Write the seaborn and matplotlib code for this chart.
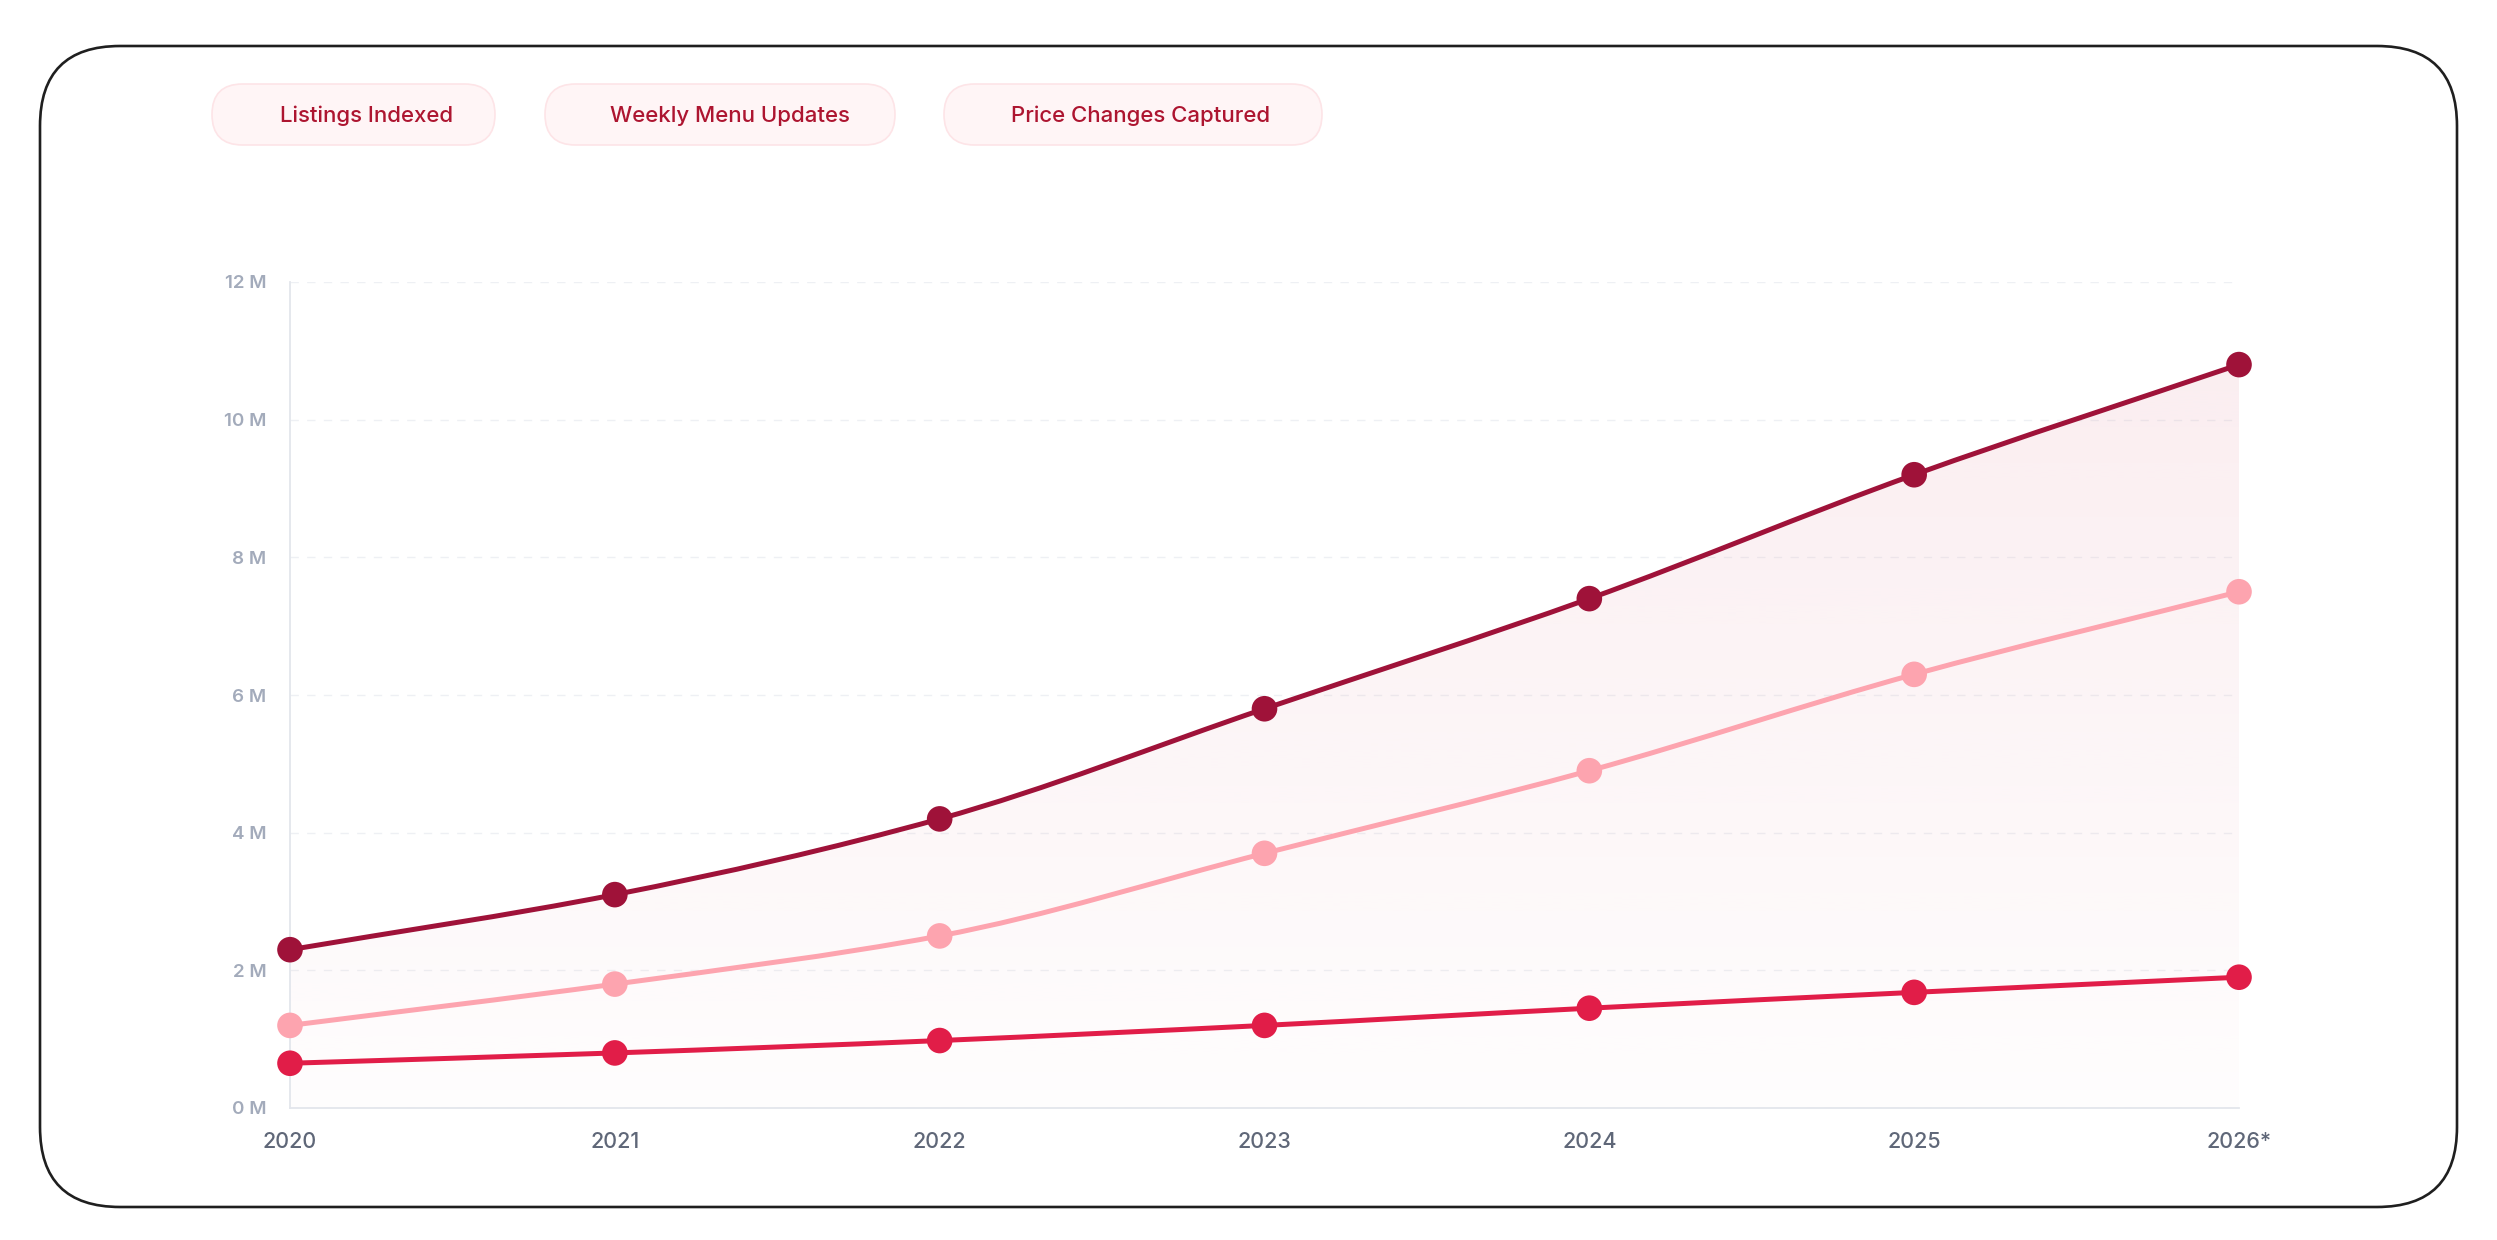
import numpy as np
import matplotlib
matplotlib.use("Agg")
import matplotlib.pyplot as plt
import seaborn as sns
import pandas as pd
from matplotlib.path import Path
from matplotlib.patches import PathPatch, FancyBboxPatch
from matplotlib.transforms import IdentityTransform

# ---------------- data ----------------
years = ["2020", "2021", "2022", "2023", "2024", "2025", "2026*"]
series_names = ["Listings Indexed", "Weekly Menu Updates", "Price Changes Captured"]
listings_indexed = [2.3, 3.1, 4.2, 5.8, 7.4, 9.2, 10.8]
weekly_menu_updates = [1.2, 1.8, 2.5, 3.7, 4.9, 6.3, 7.5]
price_changes_captured = [0.65, 0.8, 0.98, 1.2, 1.45, 1.68, 1.9]
y_ticks = [0, 2, 4, 6, 8, 10, 12]
y_tick_labels = ["0 M", "2 M", "4 M", "6 M", "8 M", "10 M", "12 M"]

colors = ["#9f1239", "#fda4af", "#e11d48"]

sns.set_theme(style="white")
plt.rcParams["font.family"] = ["Inter", "DejaVu Sans"]

W, H = 2497, 1240
fig = plt.figure(figsize=(W / 100, H / 100), dpi=100)
fig.patch.set_facecolor("white")

# outer rounded border
border = FancyBboxPatch((40, H - 1207), 2417, 1161,
                        boxstyle="round,pad=0,rounding_size=80",
                        transform=IdentityTransform(), facecolor="none",
                        edgecolor="#1f1f1f", linewidth=1.9)
fig.patches.append(border)

# legend pills
pills = [(212, 495, 280), (545, 895, 610), (944, 1322, 1011)]
for (x0, x1, tx), name in zip(pills, series_names):
    p = FancyBboxPatch((x0, H - 145), x1 - x0, 61,
                       boxstyle="round,pad=0,rounding_size=30.5",
                       transform=IdentityTransform(), facecolor="#fff5f6",
                       edgecolor="#fde4e7", linewidth=1.2)
    fig.patches.append(p)
    fig.text(tx / W, 1 - 116 / H, name, color="#ad1530", fontsize=16,
             fontweight="medium", va="center", ha="left")

# axes
ax_l, ax_r, ax_b, ax_t = 290, 2239, 1108, 282
ax = fig.add_axes([ax_l / W, 1 - ax_b / H, (ax_r - ax_l) / W, (ax_b - ax_t) / H])
ax.set_facecolor("none")

x = np.arange(len(years))
ax.set_xlim(0, len(years) - 1)
ax.set_ylim(0, 12)


def monotone_path(xs, ys):
    xs = np.asarray(xs, float)
    ys = np.asarray(ys, float)
    n = len(xs)
    h = np.diff(xs)
    d = np.diff(ys) / h
    m = np.zeros(n)
    m[0] = d[0]
    m[-1] = d[-1]
    for i in range(1, n - 1):
        if d[i - 1] * d[i] <= 0:
            m[i] = 0
        else:
            m[i] = 3 * (h[i - 1] + h[i]) / ((2 * h[i] + h[i - 1]) / d[i - 1] + (h[i] + 2 * h[i - 1]) / d[i])
    verts = [(xs[0], ys[0])]
    codes = [Path.MOVETO]
    for i in range(n - 1):
        dx = h[i] / 3
        verts += [(xs[i] + dx, ys[i] + m[i] * dx),
                  (xs[i + 1] - dx, ys[i + 1] - m[i + 1] * dx),
                  (xs[i + 1], ys[i + 1])]
        codes += [Path.CURVE4] * 3
    return verts, codes


all_series = [listings_indexed, weekly_menu_updates, price_changes_captured]

# gradient area under the top series
verts, codes = monotone_path(x, listings_indexed)
av = verts + [(x[-1], 0), (x[0], 0), (x[0], listings_indexed[0])]
ac = codes + [Path.LINETO, Path.LINETO, Path.CLOSEPOLY]
area = PathPatch(Path(av, ac), transform=ax.transData, facecolor="none", edgecolor="none")
ax.add_patch(area)
grad = np.zeros((256, 1, 4))
base = matplotlib.colors.to_rgb("#e8a0ae")
grad[:, 0, :3] = base
grad[:, 0, 3] = np.linspace(0.02, 0.2, 256)
im = ax.imshow(grad, extent=[0, len(years) - 1, 0, 12], origin="lower",
               aspect="auto", zorder=1, interpolation="bilinear")
im.set_clip_path(area)

# smooth lines
for ys, c in zip(all_series, colors):
    v, cd = monotone_path(x, ys)
    ax.add_patch(PathPatch(Path(v, cd), transform=ax.transData, facecolor="none",
                           edgecolor=c, linewidth=3.6, zorder=3, capstyle="round",
                           joinstyle="round"))

# markers
df = pd.DataFrame({
    "x": np.tile(x, 3),
    "value": listings_indexed + weekly_menu_updates + price_changes_captured,
    "series": np.repeat(series_names, len(years)),
})
sns.scatterplot(data=df, x="x", y="value", hue="series", palette=colors,
                hue_order=series_names, s=340, edgecolor="none", legend=False,
                ax=ax, zorder=4, clip_on=False)

# axes styling
ax.set_xticks(x)
ax.set_xticklabels(years, fontweight="medium")
ax.set_yticks(y_ticks)
ax.set_yticklabels(y_tick_labels, fontweight="semibold")
ax.set_xlabel("")
ax.set_ylabel("")
ax.tick_params(axis="y", length=0, pad=17, labelsize=13.5, labelcolor="#a3abbb")
ax.tick_params(axis="x", length=0, pad=17, labelsize=15.5, labelcolor="#5f6778")
ax.yaxis.grid(True, color="#eef0f4", linestyle=(0, (6, 6)), linewidth=1.0, zorder=0)
ax.xaxis.grid(False)
for s in ["top", "right"]:
    ax.spines[s].set_visible(False)
for s in ["left", "bottom"]:
    ax.spines[s].set_color("#e3e6ec")
    ax.spines[s].set_linewidth(1.3)
ax.set_axisbelow(True)

fig.savefig("out.png", dpi=100, facecolor="white")
